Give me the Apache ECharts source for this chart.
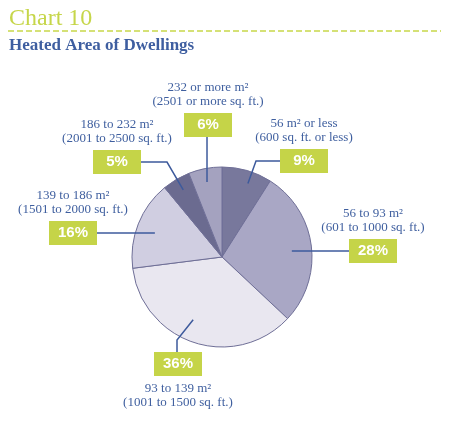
<!DOCTYPE html>
<html>
<head>
<meta charset="utf-8">
<script src="https://cdn.jsdelivr.net/npm/echarts@6/dist/echarts.min.js"></script>
<style>
html,body{margin:0;padding:0;background:#fff;}
#chart{width:450px;height:430px;}
</style>
</head>
<body>
<div id="chart"></div>
<script>
// ---- data ----
const categories = ['56 m² or less', '56 to 93 m²', '93 to 139 m²', '139 to 186 m²', '186 to 232 m²', '232 or more m²'];
const subLabels = ['(600 sq. ft. or less)', '(601 to 1000 sq. ft.)', '(1001 to 1500 sq. ft.)', '(1501 to 2000 sq. ft.)', '(2001 to 2500 sq. ft.)', '(2501 or more sq. ft.)'];
const values = [9, 28, 36, 16, 5, 6];

// ---- styling / layout (not data) ----
const sliceColors = ['#78789c', '#a9a7c5', '#e9e7f0', '#d0cee1', '#6b6b90', '#a4a2bf'];
const GREEN = '#c5d448';
const BLUE = '#3f5f9f';
const CX = 222, CY = 257, R = 90;
// label anchor (center x, top y), whether box comes before text, line start (deg from top clockwise, radius px)
const labelLayouts = [
  {x: 304, y: 117, boxFirst: false, a: 19.4, r: 78, line: 'left'},
  {x: 373, y: 207, boxFirst: false, a: 86, r: 70, line: 'leftStraight'},
  {x: 178, y: 346, boxFirst: true, a: 204.7, r: 69, line: 'top'},
  {x: 73, y: 189, boxFirst: false, a: 289, r: 71, line: 'rightStraight'},
  {x: 117, y: 118, boxFirst: false, a: 330, r: 77.5, line: 'right'},
  {x: 208, y: 81, boxFirst: false, a: 348.7, r: 76.5, line: 'bottom'}
];
const BOX_W = 48, BOX_H = 24;

function boxRect(i) {
  const L = labelLayouts[i];
  let top;
  if (L.boxFirst) top = L.y + (36 - BOX_H) / 2;
  else top = L.y + 28 + (32 - BOX_H) / 2;
  return {l: L.x - BOX_W / 2, r: L.x + BOX_W / 2, t: top, b: top + BOX_H, cx: L.x, cy: top + BOX_H / 2};
}
function linePoints(i) {
  const L = labelLayouts[i];
  const rad = L.a * Math.PI / 180;
  const s = [CX + L.r * Math.sin(rad), CY - L.r * Math.cos(rad)];
  const b = boxRect(i);
  switch (L.line) {
    case 'left': return [s, [b.l - 24, b.cy], [b.l, b.cy]];
    case 'right': return [s, [b.r + 26, b.cy], [b.r, b.cy]];
    case 'leftStraight': return [[s[0], b.cy], [b.l, b.cy], [b.l, b.cy]];
    case 'rightStraight': return [[s[0], b.cy], [b.r, b.cy], [b.r, b.cy]];
    case 'top': return [s, [b.cx - 1, b.t - 12], [b.cx - 1, b.t]];
    case 'bottom': return [s, [s[0], b.b], [s[0], b.b]];
  }
}

const pieCommon = {
  type: 'pie',
  center: [CX, CY],
  radius: R,
  startAngle: 90,
  clockwise: true,
  silent: true,
  avoidLabelOverlap: false
};

const chart = echarts.init(document.getElementById('chart'), null, {renderer: 'canvas'});
const option = {
  backgroundColor: '#ffffff',
  animation: false,
  title: [
    {text: 'Chart 10', left: 4, top: 2, textStyle: {fontFamily: 'Liberation Serif', fontSize: 24, fontWeight: 'normal', color: '#c6d64a'}},
    {text: 'Heated Area of Dwellings', left: 4, top: 32, textStyle: {fontFamily: 'Liberation Serif', fontSize: 17, fontWeight: 'bold', color: '#3e5ea0'}}
  ],
  graphic: [
    {type: 'line', shape: {x1: 8, y1: 31, x2: 441, y2: 31}, style: {stroke: '#c8d84a', lineWidth: 1.5, lineDash: [6, 3]}}
  ],
  series: [
    Object.assign({}, pieCommon, {
      z: 2,
      data: values.map((v, i) => ({value: v, name: categories[i], itemStyle: {color: sliceColors[i]}})),
      itemStyle: {borderColor: '#6f6f97', borderWidth: 1},
      label: {show: false},
      labelLine: {show: false}
    }),
    Object.assign({}, pieCommon, {
      z: 5,
      data: values.map((v, i) => ({value: v, name: categories[i]})),
      itemStyle: {color: 'rgba(0,0,0,0)', borderWidth: 0},
      label: {
        show: true,
        position: 'outside',
        formatter: function (p) {
          const i = p.dataIndex;
          const box = '{' + (labelLayouts[i].boxFirst ? 'b2' : 'b') + '|' + p.value + '%}';
          const txt = '{t|' + categories[i] + '}\n{t|' + subLabels[i] + '}';
          return labelLayouts[i].boxFirst ? box + '\n' + txt : txt + '\n' + box;
        },
        rich: {
          t: {fontFamily: 'Liberation Serif', fontSize: 13, color: BLUE, lineHeight: 14, align: 'center'},
          b: {fontFamily: 'Liberation Sans', fontSize: 15, fontWeight: 'bold', color: '#ffffff', backgroundColor: GREEN, width: BOX_W, height: BOX_H, lineHeight: 32, align: 'center'},
          b2: {fontFamily: 'Liberation Sans', fontSize: 15, fontWeight: 'bold', color: '#ffffff', backgroundColor: GREEN, width: BOX_W, height: BOX_H, lineHeight: 36, align: 'center'}
        }
      },
      labelLine: {show: true, lineStyle: {color: '#3d5a9c', width: 1.5}},
      labelLayout: function (params) {
        const i = params.dataIndex;
        const L = labelLayouts[i];
        return {
          x: L.x,
          y: L.y,
          align: 'center',
          verticalAlign: 'top',
          labelLinePoints: linePoints(i)
        };
      }
    })
  ]
};
chart.setOption(option);
</script>
</body>
</html>
